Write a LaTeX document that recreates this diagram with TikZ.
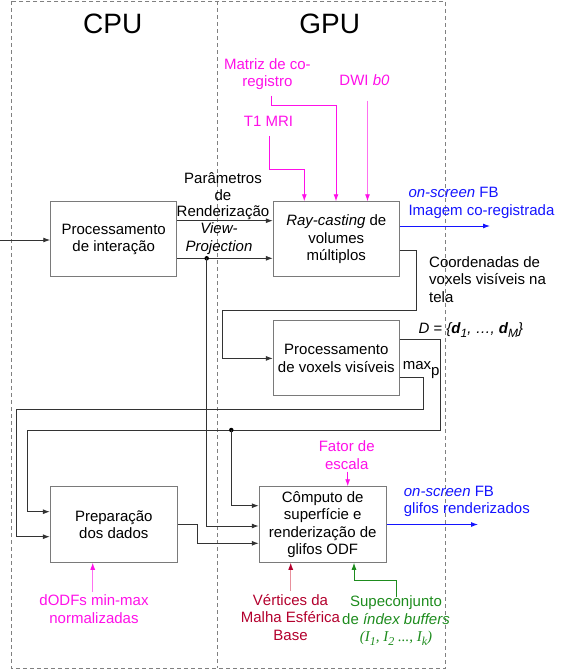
\documentclass[tikz,border=0pt]{standalone}
\usepackage{fontspec}
\setmainfont{Liberation Sans}
\newfontfamily\serifmath{Liberation Serif}
\usetikzlibrary{arrows.meta}
\definecolor{mag}{HTML}{FF10E8}
\definecolor{magl}{HTML}{FF70F0}
\definecolor{myblue}{HTML}{1414FF}
\definecolor{myred}{HTML}{B3002D}
\definecolor{myredl}{HTML}{E8909C}
\definecolor{mygreen}{HTML}{1E8C1E}
\definecolor{boxgray}{HTML}{7A7A7A}
\definecolor{linegray}{HTML}{333333}
\newcommand{\sbx}[1]{\raisebox{-4pt}{\fontsize{12}{12}\selectfont #1}}
\begin{document}
\begin{tikzpicture}[x=1pt,y=-1pt,
  txt/.style={font=\fontsize{15}{17.5}\selectfont, inner sep=0pt, align=center},
  big/.style={font=\fontsize{28}{30}\selectfont, inner sep=0pt},
  proc/.style={txt, draw=boxgray, line width=0.9pt, minimum width=126pt, minimum height=75pt},
  tip/.style={-{Latex[length=7pt,width=5pt]}},
  conn/.style={draw=linegray, line width=0.9pt, tip},
  bconn/.style={draw=myblue, line width=0.9pt, tip},
  mconn/.style={draw=mag, line width=0.9pt, tip},
  mlconn/.style={draw=magl, line width=0.9pt, -{Latex[length=7pt,width=5pt,color=mag]}},
  rconn/.style={draw=myredl, line width=0.9pt, -{Latex[length=7pt,width=5pt,color=myred]}},
  gconn/.style={draw=mygreen, line width=0.9pt, tip},
  region/.style={draw=gray, dash pattern=on 4pt off 3pt, line width=0.8pt},
  dot/.style={circle, fill=black, inner sep=0pt, minimum size=4.5pt}
]
\useasboundingbox (0,0) rectangle (574,670);

% regions
\draw[region] (11,1) rectangle (445.7,668);
\draw[region] (217.3,1) -- (217.3,668);
\node[big] (cpu) at (112.8,24) {CPU};
\node[big] (gpu) at (329.7,24) {GPU};

% boxes
\node[proc] (b1) at (113.7,239.2) {Processamento\\de interação};
\node[proc] (b2) at (336.3,239.2) {\textit{Ray-casting} de\\volumes\\múltiplos};
\node[proc] (b3) at (336.3,358.4) {Processamento\\de voxels visíveis};
\node[proc, minimum width=127pt, minimum height=75.6pt] (b4) at (113.8,524.5) {Preparação\\dos dados};
\node[proc, minimum width=127pt, minimum height=75.6pt] (b5) at (322.7,524.5) {Cômputo de\\superfície e\\renderização de\\glifos ODF};

% labels
\node[txt, font=\fontsize{15}{16.5}\selectfont] (par) at (223,196.5) {Parâmetros\\de\\Renderização};
\node[txt] (vp) at (219,238.8) {\textit{View-}\\\textit{Projection}};
\node[txt, align=left, anchor=west] (coord) at (429,279.3) {Coordenadas de\\voxels visíveis na\\tela};
\node[txt, align=left, anchor=west] (dset) at (418.3,330) {\itshape D = \{\textbf{d}\sbx{1}, …, \textbf{d}\sbx{M}\}};
\node[txt, anchor=west] (maxp) at (402.7,370) {max\raisebox{-6pt}{p}};
\node[txt, align=left, anchor=west, text=myblue] (fbA) at (408.3,203) {\textit{on-screen} FB\\Imagem co-registrada};
\node[txt, align=left, anchor=west, text=myblue] (fbB) at (403.7,501.2) {\textit{on-screen} FB\\glifos renderizados};

\node[txt, text=mag] (mz) at (267.4,73.9) {Matriz de co-\\registro};
\node[txt, text=mag] (dwi) at (364.5,80) {DWI \textit{b0}};
\node[txt, text=mag] (t1) at (268.5,121.7) {T1 MRI};
\node[txt, text=mag] (fe) at (346.7,455) {Fator de\\escala};
\node[txt, text=mag] (dodf) at (94,609) {dODFs min-max\\normalizadas};
\node[txt, text=myred] (vert) at (290.5,617.5) {Vértices da\\Malha Esférica\\Base};
\node[txt, text=mygreen] (sup) at (396,621) {Supeconjunto\\de \textit{índex buffers}\\{\serifmath\itshape (I\sbx{1}, I\sbx{2} ..., I\sbx{k})}};

% input
\coordinate (in) at (0,240);
\draw[conn] (in) -- (in -| b1.west);

% b1 -> b2
\coordinate (yA) at (0,220.7);
\draw[conn] (b1.east |- yA) -- (b2.west |- yA);
\coordinate (yB) at (0,258.3);
\draw[conn] (b1.east |- yB) -- (b2.west |- yB);
\node[dot] (d1) at (206.7,258.3) {};
\coordinate (yC) at (0,526);
\draw[conn] (d1.center) -- (d1 |- yC) -- (b5.west |- yC);

% b2 -> on-screen
\coordinate (fb1) at (490,226);
\draw[bconn] (b2.east |- fb1) -- (fb1);

% b2 -> b3
\coordinate (r1) at (416,250.5);
\coordinate (r2) at (222.7,310.7);
\draw[conn] (b2.east |- r1) -- (r1) -- (r1 |- r2) -- (r2) -- (r2 |- b3.west) -- (b3.west);

% D
\coordinate (dA) at (440.5,339.3);
\coordinate (dB) at (27,430);
\coordinate (dC) at (27,511.7);
\draw[conn] (b3.east |- dA) -- (dA) -- (dA |- dB) -- (dB) -- (dC) -- (b4.west |- dC);
\node[dot] (d2) at (231.3,430) {};
\coordinate (dD) at (0,505.7);
\draw[conn] (d2.center) -- (d2 |- dD) -- (b5.west |- dD);

% max_p
\coordinate (mA) at (423.5,377.7);
\coordinate (mB) at (16,409.3);
\coordinate (mC) at (16,536.7);
\draw[conn] (b3.east |- mA) -- (mA) -- (mA |- mB) -- (mB) -- (mC) -- (b4.west |- mC);

% b4 -> b5
\coordinate (pA) at (197.3,524.3);
\coordinate (pB) at (197.3,543.3);
\draw[conn] (b4.east |- pA) -- (pA) -- (pB) -- (b5.west |- pB);

% b5 -> on-screen
\coordinate (fb2) at (478,524.5);
\draw[bconn] (b5.east) -- (fb2);

% magenta inputs
\coordinate (t1s) at (269.2,136);
\coordinate (t1e) at (304.3,169.3);
\draw[mconn] (t1s) |- (t1e) -- (t1e |- b2.north);
\coordinate (mzs) at (271.4,95.7);
\coordinate (mze) at (336,105.3);
\draw[mconn] (mzs) |- (mze) -- (mze |- b2.north);
\coordinate (dws) at (367.5,100.7);
\draw[mlconn] (dws) -- (dws |- b2.north);
\coordinate (fes) at (347.7,471.7);
\draw[mconn] (fes) -- (fes |- b5.north);
\coordinate (dos) at (92.7,592);
\draw[mlconn] (dos) -- (dos |- b4.south);

% red and green inputs
\coordinate (vs) at (290.7,590.7);
\draw[rconn] (vs) -- (vs |- b5.south);
\coordinate (gs) at (396.7,596.7);
\coordinate (gc) at (354,580.7);
\draw[gconn] (gs) |- (gc) -- (gc |- b5.south);
\end{tikzpicture}
\end{document}
